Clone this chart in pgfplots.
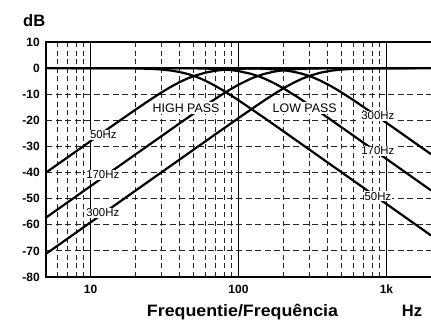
\documentclass[border=0pt]{standalone}
\usepackage{fontspec}
\setmainfont{Liberation Sans}
\newfontfamily\widebold[FakeStretch=1.08]{Liberation Sans}
\usepackage{pgfplots}
\pgfplotsset{compat=1.18}
\begin{document}
\begin{tikzpicture}
\begin{axis}[
  scale only axis, width=385bp, height=235bp,
  at={(0,0)}, anchor=south west,
  xmode=log, log basis x=10,
  xmin=5, xmax=2000, ymin=-80, ymax=10,
  xtick={10,100,1000}, xticklabels={10,100,1k},
  minor xtick={6,7,8,9,20,30,40,50,60,70,80,90,200,300,400,500,600,700,800,900},
  ytick={-80,-70,-60,-50,-40,-30,-20,-10,0,10},
  yticklabels={-80,-70,-60,-50,-40,-30,-20,-10,0,10},
  xmajorgrids, xminorgrids, ymajorgrids,
  major x grid style={solid, line width=1.4bp, black},
  minor x grid style={dash pattern=on 5bp off 3.5bp, line width=1bp, black!85},
  major y grid style={dash pattern=on 6bp off 3.5bp, line width=1bp, black!85},
  major tick length=0pt, minor tick length=0pt,
  axis line style={draw=none},
  clip=false,
  xticklabel style={font=\fontsize{12bp}{14bp}\selectfont\bfseries, inner sep=0pt, anchor=north, yshift=-8bp},
  yticklabel style={font=\fontsize{12bp}{14bp}\selectfont\bfseries, inner sep=0pt, anchor=east, xshift=-6bp},
]
% 0 dB reference line
\addplot[black, line width=2bp] coordinates {(5,0) (2000,0)};
% High pass 50 Hz
\addplot[black, line width=2.2bp] coordinates {
(5,-40.00) (10,-27.97) (15,-20.95) (20,-16.03) (25,-12.30) (30,-9.40) (35,-7.13) (40,-5.37) (45,-4.02) (50,-3.01) (60,-1.71) (70,-1.00) (80,-0.62) (100,-0.26) (150,-0.05) (200,-0.02) (2000,0)};
% High pass 170 Hz
\addplot[black, line width=2.2bp] coordinates {
(5,-57.25) (10,-45.21) (20,-33.17) (30,-26.14) (40,-21.16) (50,-17.33) (60,-14.26) (70,-11.71) (80,-9.59) (90,-7.83) (100,-6.36) (120,-4.15) (135,-3.01) (150,-2.19) (175,-1.32) (200,-0.82) (250,-0.35) (300,-0.17) (400,-0.06) (2000,0)};
% High pass 300 Hz
\addplot[black, line width=2.2bp] coordinates {
(5,-71.13) (10,-59.08) (20,-47.04) (30,-40.00) (50,-31.13) (70,-25.29) (100,-19.14) (130,-14.68) (150,-12.30) (180,-9.40) (210,-7.13) (240,-5.37) (270,-4.02) (300,-3.01) (360,-1.71) (420,-1.00) (480,-0.62) (600,-0.26) (900,-0.05) (2000,0)};
% Low pass 50 Hz
\addplot[black, line width=2.2bp] coordinates {
(5,0) (15,-0.04) (20,-0.11) (25,-0.26) (30,-0.53) (35,-0.93) (40,-1.49) (45,-2.19) (50,-3.01) (55,-3.92) (60,-4.88) (70,-6.85) (80,-8.78) (100,-12.30) (150,-19.14) (200,-24.10) (300,-31.13) (500,-40.00) (1000,-52.04) (2000,-64.08)};
% Low pass 170 Hz
\addplot[black, line width=2.2bp] coordinates {
(5,0) (30,-0.01) (40,-0.03) (50,-0.08) (60,-0.17) (70,-0.30) (80,-0.51) (90,-0.78) (100,-1.14) (120,-2.11) (135,-3.01) (150,-4.02) (175,-5.83) (200,-7.65) (250,-11.06) (300,-14.05) (400,-18.92) (500,-22.77) (700,-28.60) (1000,-34.79) (1500,-41.83) (2000,-46.83)};
% Low pass 300 Hz
\addplot[black, line width=2.2bp] coordinates {
(5,0) (50,0) (100,-0.05) (130,-0.15) (150,-0.26) (180,-0.53) (210,-0.93) (240,-1.49) (270,-2.19) (300,-3.01) (330,-3.92) (360,-4.88) (420,-6.85) (480,-8.78) (600,-12.30) (900,-19.14) (1200,-24.10) (1500,-27.97) (2000,-32.96)};
% frame (top, bottom, left)
\draw[line width=2bp, line cap=rect] (rel axis cs:0,1) -- (rel axis cs:1,1);
\draw[line width=2bp, line cap=rect] (rel axis cs:0,0) -- (rel axis cs:1,0);
\draw[line width=2bp, line cap=rect] (rel axis cs:0,0) -- (rel axis cs:0,1);
% labels
\tikzset{hz/.style={fill=white, inner sep=1bp, font=\fontsize{11.4bp}{12bp}\selectfont},
         pass/.style={fill=white, inner sep=1.5bp, font=\fontsize{12.4bp}{14bp}\selectfont}}
\node[hz] at (axis cs:12.2,-25.5) {50Hz};
\node[hz] at (axis cs:12.1,-40.9) {170Hz};
\node[hz] at (axis cs:12.1,-55.4) {300Hz};
\node[hz] at (axis cs:875,-18.3) {300Hz};
\node[hz] at (axis cs:875,-31.7) {170Hz};
\node[hz] at (axis cs:875,-49.1) {50Hz};
\node[pass] at (axis cs:44.2,-15.3) {HIGH PASS};
\node[pass] at (axis cs:280,-15.2) {LOW PASS};
\end{axis}
\node[anchor=base west, inner sep=0pt, font=\fontsize{16.5bp}{18bp}\selectfont\bfseries] at (-23bp,250bp) {dB};
\node[anchor=base, inner sep=0pt, font=\fontsize{16.5bp}{18bp}\selectfont\widebold\bfseries] at (196.5bp,-39.7bp) {Frequentie/Frequência};
\node[anchor=base west, inner sep=0pt, font=\fontsize{16.5bp}{18bp}\selectfont\bfseries] at (355.7bp,-39.7bp) {Hz};
\pgfresetboundingbox
\path[use as bounding box] (-46bp,-44bp) rectangle (385bp,277bp);
\end{tikzpicture}
\end{document}
